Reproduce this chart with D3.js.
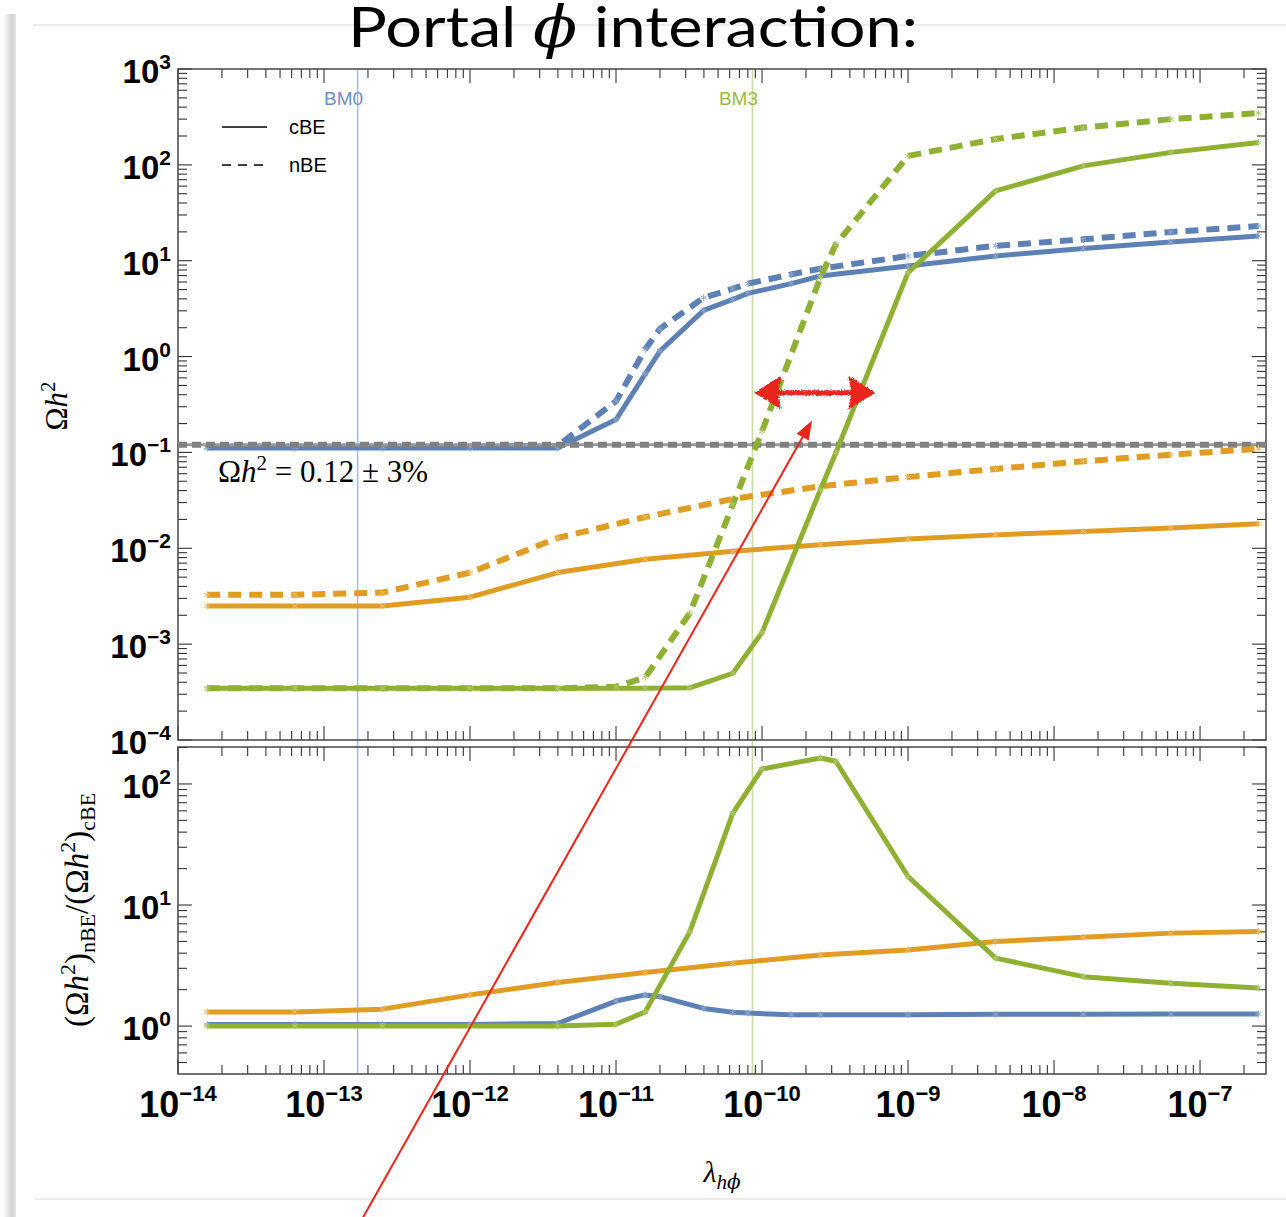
<!DOCTYPE html>
<html>
<head>
<meta charset="utf-8">
<script src="https://cdn.jsdelivr.net/npm/d3@7"></script>
<style>
  body { margin: 0; background: #fff; }
  svg { display: block; }
</style>
</head>
<body>
<svg id="chart" width="1286" height="1217"></svg>
<script>
// ---- λ_hφ grids used by the scans ----
const lambdaMain  = [1.585e-14, 6.31e-14, 2.512e-13, 1e-12, 3.981e-12, 1.585e-11, 6.31e-11, 2.512e-10, 1e-9, 3.981e-9, 1.585e-8, 6.31e-8, 2.512e-7];
const lambdaBlue  = [1.585e-14, 6.31e-14, 2.512e-13, 1e-12, 3.981e-12, 1e-11, 1.585e-11, 2e-11, 3.981e-11, 6.31e-11, 8e-11, 1.585e-10, 2.512e-10, 1e-9, 3.981e-9, 1.585e-8, 6.31e-8, 2.512e-7];
const lambdaGreen = [1.585e-14, 6.31e-14, 2.512e-13, 1e-12, 3.981e-12, 1e-11, 1.585e-11, 3.2e-11, 6.31e-11, 1e-10, 2.512e-10, 3.2e-10, 1e-9, 3.981e-9, 1.585e-8, 6.31e-8, 2.512e-7];

// ---- relic abundance Ωh² (coupled / full Boltzmann equations) ----
const blueCBE   = [0.111, 0.111, 0.111, 0.111, 0.111, 0.220, 0.66, 1.14, 3.03, 3.95, 4.56, 5.77, 6.92, 8.8, 11.2, 13.4, 15.7, 18.1];
const blueNBE   = [0.114, 0.114, 0.114, 0.115, 0.117, 0.342, 1.19, 1.95, 4.11, 5.1, 5.76, 7.2, 8.26, 11.2, 14.3, 16.7, 19.9, 23.0];
const orangeCBE = [2.5e-3, 2.5e-3, 2.5e-3, 3.09e-3, 5.58e-3, 7.7e-3, 9.3e-3, 0.0109, 0.0125, 0.0138, 0.015, 0.0163, 0.018];
const orangeNBE = [3.27e-3, 3.27e-3, 3.45e-3, 5.58e-3, 0.0128, 0.0212, 0.0327, 0.0443, 0.0555, 0.0673, 0.0808, 0.0948, 0.109];
const greenCBE  = [3.46e-4, 3.46e-4, 3.46e-4, 3.46e-4, 3.46e-4, 3.46e-4, 3.46e-4, 3.5e-4, 4.97e-4, 1.32e-3, 0.0408, 0.0988, 7.5, 53.5, 97.6, 135, 171];
const greenNBE  = [3.46e-4, 3.46e-4, 3.46e-4, 3.46e-4, 3.46e-4, 3.6e-4, 4.5e-4, 2.1e-3, 0.0285, 0.166, 6.7, 14.8, 124, 186, 245, 300, 347];

// ---- ratio (Ωh²)_nBE / (Ωh²)_cBE ----
const blueRatio   = [1.03, 1.03, 1.03, 1.03, 1.05, 1.61, 1.81, 1.75, 1.40, 1.30, 1.28, 1.24, 1.24, 1.24, 1.25, 1.25, 1.26, 1.26];
const orangeRatio = [1.31, 1.31, 1.38, 1.81, 2.29, 2.77, 3.3, 3.87, 4.26, 4.99, 5.42, 5.86, 6.04];
const greenRatio  = [1.0, 1.0, 1.0, 1.0, 1.0, 1.035, 1.31, 6.0, 57.5, 133, 164, 154, 17.2, 3.64, 2.56, 2.26, 2.06];

// ---- reference values ----
const relicDensity = 0.12;
const benchmarkNames = ["BM0", "BM3"];
const benchmarkLambdas = [1.7e-13, 8.6e-11];

// ---- tick exponents ----
const xTickExps = [-14, -13, -12, -11, -10, -9, -8, -7];
const yTopTickExps = [-4, -3, -2, -1, 0, 1, 2, 3];
const yBottomTickExps = [0, 1, 2];

// ---- annotation anchors (λ, Ωh²) ----
const pointerFrom = [1.84e-13, 1.03e-9];
const pointerTo = [2.2e-10, 0.215];
const spanArrowFrom = [9.1e-11, 0.42];
const spanArrowTo = [5.8e-10, 0.42];

// ================= drawing =================
const svg = d3.select("#chart");
const defs = svg.append("defs");

const left = 178, right = 1266;
const top1 = 69, bottom1 = 740, top2 = 747, bottom2 = 1074;

const x = d3.scaleLog().domain([1e-14, 2.83e-7]).range([left, right]);
const yTop = d3.scaleLog().domain([1e-4, 1e3]).range([bottom1, top1]);
const yBot = d3.scaleLog().domain([0.402, 202]).range([bottom2, top2]);

const colors = { blue: "#5E81B5", orange: "#E19C24", green: "#8FB032" };

// slide frame
const grad = defs.append("linearGradient").attr("id", "edge").attr("x1", 0).attr("x2", 1);
grad.append("stop").attr("offset", "0%").attr("stop-color", "#ffffff");
grad.append("stop").attr("offset", "70%").attr("stop-color", "#d2d2d2");
grad.append("stop").attr("offset", "100%").attr("stop-color", "#e6e6e6");
svg.append("rect").attr("x", 3).attr("y", 14).attr("width", 13).attr("height", 1203).attr("fill", "url(#edge)");
svg.append("line").attr("x1", 33).attr("x2", 1286).attr("y1", 25).attr("y2", 25).attr("stroke", "#ececec").attr("stroke-width", 2);
svg.append("line").attr("x1", 35).attr("x2", 1286).attr("y1", 1199).attr("y2", 1199).attr("stroke", "#ececec").attr("stroke-width", 2);

// title
const title = svg.append("text")
  .attr("x", 633).attr("y", 47).attr("text-anchor", "middle")
  .attr("font-family", "Lato, 'Open Sans', sans-serif").attr("font-size", 57)
  .attr("textLength", 570).attr("lengthAdjust", "spacingAndGlyphs");
title.append("tspan").text("Portal ");
title.append("tspan").text("ϕ").attr("font-family", "'DejaVu Serif', serif").attr("font-style", "italic");
title.append("tspan").text(" interaction:");

// helper for mixed math text
function rich(sel, parts) {
  let cur = 0;
  parts.forEach(p => {
    const ts = sel.append("tspan").text(p.t);
    const shift = p.shift || 0;
    if (shift !== cur) { ts.attr("dy", shift - cur); cur = shift; }
    if (p.size) ts.attr("font-size", p.size);
    if (p.italic) ts.attr("font-style", "italic");
    if (p.family) ts.attr("font-family", p.family);
  });
}

// benchmark verticals
const bmLine = ["#A9BFE2", "#C9DCA2"];
const bmText = ["#6E8FC7", "#9ABB3E"];
benchmarkLambdas.forEach((l, i) => {
  svg.append("line").attr("x1", x(l)).attr("x2", x(l)).attr("y1", top1).attr("y2", bottom2)
    .attr("stroke", bmLine[i]).attr("stroke-width", 1.6);
  svg.append("text").attr("x", x(l) - 14).attr("y", 105).attr("text-anchor", "middle")
    .attr("font-family", "'Liberation Sans', Arial, sans-serif").attr("font-size", 19)
    .attr("fill", bmText[i]).text(benchmarkNames[i]);
});

// ticks
function logTicks(domain) {
  const out = [];
  const k0 = Math.floor(Math.log10(domain[0])), k1 = Math.ceil(Math.log10(domain[1]));
  for (let k = k0; k <= k1; k++) for (let m = 1; m <= 9; m++) {
    const v = m * Math.pow(10, k);
    if (v >= domain[0] * 0.999 && v <= domain[1] * 1.001) out.push({ v, major: m === 1 });
  }
  return out;
}
const axisG = svg.append("g").attr("stroke", "#333").attr("stroke-width", 1.1);
const xt = logTicks(x.domain());
[[top1, 1], [bottom1, -1], [top2, 1], [bottom2, -1]].forEach(([yy, dir]) => {
  xt.forEach(t => {
    const L = t.major ? 14 : 9;
    axisG.append("line").attr("x1", x(t.v)).attr("x2", x(t.v)).attr("y1", yy).attr("y2", yy + dir * L);
  });
});
[[yTop], [yBot]].forEach(([ys]) => {
  logTicks(ys.domain()).forEach(t => {
    const L = t.major ? 14 : 9;
    axisG.append("line").attr("x1", left).attr("x2", left + L).attr("y1", ys(t.v)).attr("y2", ys(t.v));
    axisG.append("line").attr("x1", right).attr("x2", right - L).attr("y1", ys(t.v)).attr("y2", ys(t.v));
  });
});
// frames
svg.append("rect").attr("x", left).attr("y", top1).attr("width", right - left).attr("height", bottom1 - top1)
  .attr("fill", "none").attr("stroke", "#444").attr("stroke-width", 1.5);
svg.append("rect").attr("x", left).attr("y", top2).attr("width", right - left).attr("height", bottom2 - top2)
  .attr("fill", "none").attr("stroke", "#444").attr("stroke-width", 1.5);

// tick labels
const sans = "'Liberation Sans', Arial, Helvetica, sans-serif";
function expText(e) { return e < 0 ? "\u2212" + (-e) : String(e); }
function yLabels(ys, exps) {
  exps.forEach(e => {
    const t = svg.append("text").attr("x", 171).attr("y", ys(Math.pow(10, e)) + 14)
      .attr("text-anchor", "end").attr("font-family", sans).attr("font-weight", "bold").attr("font-size", 33);
    t.append("tspan").text("10");
    t.append("tspan").text(expText(e)).attr("font-size", 21).attr("dy", -14);
  });
}
yLabels(yTop, yTopTickExps);
yLabels(yBot, yBottomTickExps);
xTickExps.forEach(e => {
  const t = svg.append("text").attr("x", x(Math.pow(10, e))).attr("y", 1117)
    .attr("text-anchor", "middle").attr("font-family", sans).attr("font-weight", "bold").attr("font-size", 36);
  t.append("tspan").text("10");
  t.append("tspan").text(expText(e)).attr("font-size", 22).attr("dy", -16);
});

// axis titles
const serif = "'Liberation Serif', 'Times New Roman', serif";
rich(svg.append("text").attr("transform", "translate(67,406) rotate(-90)").attr("text-anchor", "middle")
  .attr("font-family", serif).attr("font-size", 31),
  [{ t: "Ω" }, { t: "h", italic: true }, { t: "2", size: 21, shift: -12 }]);
rich(svg.append("text").attr("transform", "translate(88,910) rotate(-90)").attr("text-anchor", "middle")
  .attr("font-family", serif).attr("font-size", 33),
  [{ t: "(Ω" }, { t: "h", italic: true }, { t: "2", size: 22, shift: -13 }, { t: ")" },
   { t: "nBE", size: 22, shift: 7 }, { t: "/(Ω" }, { t: "h", italic: true }, { t: "2", size: 22, shift: -13 },
   { t: ")" }, { t: "cBE", size: 22, shift: 7 }]);
rich(svg.append("text").attr("x", 722).attr("y", 1182).attr("text-anchor", "middle")
  .attr("font-family", serif).attr("font-size", 30),
  [{ t: "λ", italic: true }, { t: "h", italic: true, size: 21, shift: 7 },
   { t: "ϕ", italic: true, size: 20, shift: 7, family: "'DejaVu Serif', serif" }]);

// legend
svg.append("line").attr("x1", 222).attr("x2", 267).attr("y1", 127).attr("y2", 127).attr("stroke", "#000").attr("stroke-width", 1.3);
svg.append("line").attr("x1", 222).attr("x2", 267).attr("y1", 165).attr("y2", 165).attr("stroke", "#000").attr("stroke-width", 1.3)
  .attr("stroke-dasharray", "9,7");
svg.append("text").attr("x", 289).attr("y", 134).attr("font-family", sans).attr("font-size", 20).text("cBE");
svg.append("text").attr("x", 289).attr("y", 172).attr("font-family", sans).attr("font-size", 20).text("nBE");

// series drawing
function pts(xs, ys) { return xs.map((v, i) => [v, ys[i]]); }
const star = d3.symbol(d3.symbolAsterisk, 34);
function drawSeries(g, data, ys, color, dashed) {
  const line = d3.line().x(d => x(d[0])).y(d => ys(d[1]));
  g.append("path").datum(data).attr("d", line).attr("fill", "none").attr("stroke", color)
    .attr("stroke-width", dashed ? 6 : 5).attr("stroke-linejoin", "round")
    .attr("stroke-dasharray", dashed ? "13,8" : null);
  g.selectAll(null).data(data).enter().append("path")
    .attr("d", star).attr("transform", d => `translate(${x(d[0])},${ys(d[1])})`)
    .attr("fill", "none").attr("stroke", d3.interpolateRgb(color, "#fff")(0.3)).attr("stroke-width", 1);
}

const gTop = svg.append("g");
drawSeries(gTop, pts(lambdaBlue, blueCBE), yTop, colors.blue, false);
drawSeries(gTop, pts(lambdaBlue, blueNBE), yTop, colors.blue, true);
// observed relic abundance
gTop.append("line").attr("x1", left).attr("x2", right).attr("y1", yTop(relicDensity)).attr("y2", yTop(relicDensity))
  .attr("stroke", "#9a9a9a").attr("stroke-width", 3);
gTop.append("line").attr("x1", left).attr("x2", right).attr("y1", yTop(relicDensity)).attr("y2", yTop(relicDensity))
  .attr("stroke", "#808080").attr("stroke-width", 6).attr("stroke-dasharray", "9,5");
drawSeries(gTop, pts(lambdaMain, orangeCBE), yTop, colors.orange, false);
drawSeries(gTop, pts(lambdaMain, orangeNBE), yTop, colors.orange, true);
drawSeries(gTop, pts(lambdaGreen, greenCBE), yTop, colors.green, false);
drawSeries(gTop, pts(lambdaGreen, greenNBE), yTop, colors.green, true);

rich(svg.append("text").attr("x", 218).attr("y", 482).attr("font-family", serif).attr("font-size", 31),
  [{ t: "Ω" }, { t: "h", italic: true }, { t: "2", size: 21, shift: -12 }, { t: " = 0.12 ± 3%" }]);

const gBot = svg.append("g");
drawSeries(gBot, pts(lambdaBlue, blueRatio), yBot, colors.blue, false);
drawSeries(gBot, pts(lambdaMain, orangeRatio), yBot, colors.orange, false);
drawSeries(gBot, pts(lambdaGreen, greenRatio), yBot, colors.green, false);

// annotations
const red = "#E8261B";
const rough = defs.append("filter").attr("id", "rough").attr("x", "-20%").attr("y", "-80%").attr("width", "140%").attr("height", "260%");
rough.append("feTurbulence").attr("type", "fractalNoise").attr("baseFrequency", 0.7).attr("numOctaves", 2).attr("seed", 4).attr("result", "noise");
rough.append("feDisplacementMap").attr("in", "SourceGraphic").attr("in2", "noise").attr("scale", 4)
  .attr("xChannelSelector", "R").attr("yChannelSelector", "G");

const sx0 = x(spanArrowFrom[0]), sx1 = x(spanArrowTo[0]), sy = yTop(spanArrowFrom[1]);
const ga = svg.append("g").attr("filter", "url(#rough)").attr("fill", red).attr("stroke", red);
ga.append("line").attr("x1", sx0 + 18).attr("x2", sx1 - 18).attr("y1", sy).attr("y2", sy).attr("stroke-width", 5);
ga.append("path").attr("d", `M${sx0},${sy} L${sx0 + 24},${sy - 15} L${sx0 + 21},${sy} L${sx0 + 24},${sy + 15} Z`).attr("stroke-width", 2);
ga.append("path").attr("d", `M${sx1},${sy} L${sx1 - 24},${sy - 15} L${sx1 - 21},${sy} L${sx1 - 24},${sy + 15} Z`).attr("stroke-width", 2);

const px0 = x(pointerFrom[0]), py0 = yTop(pointerFrom[1]);
const px1 = x(pointerTo[0]), py1 = yTop(pointerTo[1]);
const ang = Math.atan2(py1 - py0, px1 - px0);
const hl = 19, hw = 7;
const bx = px1 - hl * Math.cos(ang), by = py1 - hl * Math.sin(ang);
svg.append("line").attr("x1", px0).attr("y1", py0).attr("x2", bx).attr("y2", by)
  .attr("stroke", red).attr("stroke-width", 2);
svg.append("path")
  .attr("d", `M${px1},${py1} L${bx + hw * Math.sin(ang)},${by - hw * Math.cos(ang)} L${bx - hw * Math.sin(ang)},${by + hw * Math.cos(ang)} Z`)
  .attr("fill", red);
</script>
</body>
</html>
